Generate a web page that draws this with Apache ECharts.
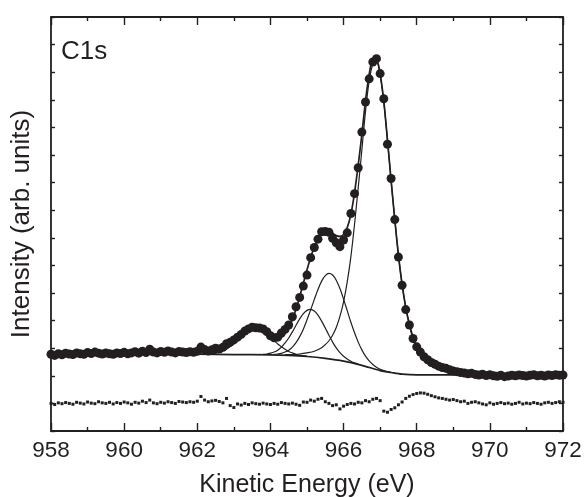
<!DOCTYPE html>
<html><head><meta charset="utf-8">
<script src="https://cdn.jsdelivr.net/npm/echarts@6/dist/echarts.min.js"></script>
<style>html,body{margin:0;padding:0;background:#fff}#c{width:586px;height:497px}</style>
</head><body><div id="c"></div>
<script>
// Measured spectrum (0.1 eV steps)
const energy = [958,958.1,958.2,958.3,958.4,958.5,958.6,958.7,958.8,958.9,
959,959.1,959.2,959.3,959.4,959.5,959.6,959.7,959.8,959.9,
960,960.1,960.2,960.3,960.4,960.5,960.6,960.7,960.8,960.9,
961,961.1,961.2,961.3,961.4,961.5,961.6,961.7,961.8,961.9,
962,962.1,962.2,962.3,962.4,962.5,962.6,962.7,962.8,962.9,
963,963.1,963.2,963.3,963.4,963.5,963.6,963.7,963.8,963.9,
964,964.1,964.2,964.3,964.4,964.5,964.6,964.7,964.8,964.9,
965,965.1,965.2,965.3,965.4,965.5,965.6,965.7,965.8,965.9,
966,966.1,966.2,966.3,966.4,966.5,966.6,966.7,966.8,966.9,
967,967.1,967.2,967.3,967.4,967.5,967.6,967.7,967.8,967.9,
968,968.1,968.2,968.3,968.4,968.5,968.6,968.7,968.8,968.9,
969,969.1,969.2,969.3,969.4,969.5,969.6,969.7,969.8,969.9,
970,970.1,970.2,970.3,970.4,970.5,970.6,970.7,970.8,970.9,
971,971.1,971.2,971.3,971.4,971.5,971.6,971.7,971.8,971.9,972];
const intensity = [2.78,2.74,2.80,2.76,2.82,2.79,2.77,2.83,2.80,2.78,
2.84,2.81,2.86,2.82,2.79,2.83,2.80,2.78,2.83,2.81,
2.85,2.80,2.83,2.87,2.82,2.89,2.84,2.96,2.86,2.83,
2.88,2.85,2.90,2.86,2.83,2.88,2.86,2.84,2.87,2.85,
2.89,3.04,2.95,2.90,2.94,3.00,2.97,3.03,3.16,3.22,
3.30,3.40,3.50,3.62,3.70,3.76,3.74,3.73,3.70,3.60,
3.45,3.38,3.40,3.55,3.68,3.84,4.14,4.50,4.84,5.25,
5.65,6.28,6.65,6.95,7.22,7.23,7.20,6.98,6.82,6.68,
6.92,7.18,7.88,8.60,9.54,10.83,11.92,12.76,13.37,13.49,
12.95,12.04,10.39,9.15,7.66,6.30,5.28,4.40,3.84,3.35,
3.05,2.86,2.69,2.58,2.48,2.42,2.35,2.30,2.27,2.22,
2.17,2.15,2.12,2.10,2.07,2.09,2.05,2.03,2.06,2.01,
2.04,2.00,1.98,2.02,1.97,1.99,2.02,2.00,2.03,2.01,
1.99,2.02,2.04,2.00,2.02,1.99,2.03,2.01,2.04,2.02,2.03];
// Fit residual (offset below spectrum)
const residual = [1.00,0.96,1.02,0.99,1.03,1.00,0.97,1.04,1.01,0.98,
1.05,1.01,0.99,1.06,1.02,1.00,1.04,0.98,1.03,1.00,
1.05,1.02,0.97,1.04,1.01,1.08,1.03,1.12,1.02,0.99,
1.04,1.01,1.06,1.03,1.00,1.07,1.05,1.03,1.06,1.04,
1.08,1.25,1.12,1.06,1.09,1.11,1.07,1.02,1.18,0.92,
0.85,0.98,0.94,1.00,0.96,1.02,0.99,0.97,1.01,0.98,
0.96,1.00,0.97,1.03,1.00,0.98,1.01,0.97,0.93,1.05,
1.04,1.12,1.08,1.15,1.18,1.06,1.00,0.92,0.95,0.80,
0.90,0.96,1.00,0.98,1.04,1.02,1.10,1.06,1.15,1.18,
1.10,0.72,0.68,0.78,0.84,0.95,1.05,1.18,1.26,1.32,
1.36,1.38,1.37,1.33,1.28,1.24,1.20,1.18,1.15,1.12,
1.14,1.10,1.06,1.08,1.00,1.04,1.06,1.02,0.98,0.95,
1.02,0.97,1.00,1.03,0.99,1.01,0.97,1.00,1.04,0.98,
1.01,0.99,1.03,1.00,0.97,1.02,1.04,1.00,1.03,1.06,1.04];

// Shirley background
const bgX = [958,962,963,964,964.5,965,965.5,966,966.5,967,967.3,967.6,968,972];
const bgY = [2.79,2.78,2.77,2.76,2.74,2.70,2.63,2.53,2.38,2.19,2.12,2.06,2.03,2.03];
// Component A (~963.6 eV)
const peakAX = [962.2,962.3,962.4,962.5,962.6,962.7,962.8,962.9,963,963.1,963.2,963.3,963.4,963.5,963.6,963.7,963.8,963.9,964,964.1,964.2,964.3,964.4,964.5,964.6,964.7,964.8,964.9,965];
const peakAY = [2.78,2.79,2.80,2.83,2.86,2.91,2.98,3.07,3.17,3.29,3.41,3.52,3.61,3.67,3.69,3.67,3.60,3.51,3.40,3.28,3.15,3.05,2.96,2.88,2.83,2.78,2.75,2.73,2.71];
// Component B (~965.1 eV)
const peakBX = [963.8,963.9,964,964.1,964.2,964.3,964.4,964.5,964.6,964.7,964.8,964.9,965,965.1,965.2,965.3,965.4,965.5,965.6,965.7,965.8,965.9,966,966.1,966.2,966.3,966.4];
const peakBY = [2.78,2.79,2.82,2.86,2.93,3.04,3.19,3.37,3.59,3.83,4.06,4.25,4.37,4.41,4.35,4.20,3.98,3.73,3.47,3.22,3.01,2.84,2.71,2.61,2.53,2.47,2.43];
// Component C (~965.6 eV)
const peakCX = [964.1,964.2,964.3,964.4,964.5,964.6,964.7,964.8,964.9,965,965.1,965.2,965.3,965.4,965.5,965.6,965.7,965.8,965.9,966,966.1,966.2,966.3,966.4,966.5,966.6,966.7,966.8,966.9,967,967.1,967.2,967.3];
const peakCY = [2.78,2.79,2.81,2.86,2.93,3.04,3.20,3.42,3.69,4.03,4.39,4.77,5.13,5.43,5.63,5.71,5.65,5.46,5.16,4.78,4.36,3.94,3.56,3.22,2.94,2.71,2.54,2.41,2.31,2.24,2.19,2.15,2.12];
// Component D (main, ~966.9 eV)
const peakDX = [964.4,964.6,964.8,965,965.2,965.4,965.5,965.6,965.7,965.8,965.9,966,966.1,966.2,966.3,966.4,966.5,966.6,966.7,966.8,966.9,967,967.1,967.2,967.3,967.4,967.5,967.6,967.7,967.8,967.9,968,968.1,968.2,968.3,968.4,968.5,968.6,968.7,968.8,968.9,969,969.2,969.5,970];
const peakDY = [2.77,2.77,2.79,2.83,2.89,3.02,3.13,3.27,3.47,3.75,4.15,4.68,5.40,6.32,7.49,8.81,10.18,11.59,12.68,13.29,13.36,12.89,11.92,10.54,9.07,7.67,6.37,5.31,4.48,3.83,3.33,2.98,2.74,2.57,2.45,2.36,2.29,2.24,2.20,2.16,2.13,2.11,2.08,2.05,2.03];
// Total fit envelope
const envX = [958,962,962.1,962.2,962.3,962.4,962.5,962.6,962.7,962.8,962.9,963,963.1,963.2,963.3,963.4,963.5,963.6,963.7,963.8,963.9,964,964.1,964.2,964.3,964.4,964.5,964.6,964.7,964.8,964.9,965,965.1,965.2,965.3,965.4,965.5,965.6,965.7,965.8,965.9,966,966.1,966.2,966.3,966.4,966.5,966.6,966.7,966.8,966.9,967,967.1,967.2,967.3,967.4,967.5,967.6,967.7,967.8,967.9,968,968.1,968.2,968.3,968.4,968.5,968.6,968.7,968.8,968.9,969,969.2,969.5,970,970.5,972];
const envY = [2.79,2.78,2.79,2.79,2.80,2.81,2.83,2.87,2.92,2.98,3.07,3.17,3.29,3.41,3.52,3.61,3.67,3.69,3.67,3.62,3.54,3.46,3.40,3.37,3.40,3.54,3.73,4.04,4.42,4.86,5.35,5.84,6.29,6.66,6.96,7.15,7.24,7.23,7.16,7.08,7.05,7.12,7.37,7.85,8.64,9.63,10.74,11.96,12.92,13.43,13.44,12.94,11.94,10.55,9.07,7.67,6.37,5.31,4.48,3.87,3.40,3.05,2.84,2.67,2.55,2.46,2.39,2.33,2.28,2.24,2.20,2.17,2.12,2.07,2.04,2.03,2.03];

const xTicks = [958,960,962,964,966,968,970,972];

const pairs = (xs, ys) => xs.map((x, i) => [x, ys[i]]);
const ink = '#231f20';
const font = '"Liberation Sans", Arial, Helvetica, sans-serif';

const chart = echarts.init(document.getElementById('c'));
const lineSeries = (xs, ys, w) => ({
  type: 'line', data: pairs(xs, ys), smooth: 0.3, symbol: 'none',
  lineStyle: {color: ink, width: w}, xAxisIndex: 0, yAxisIndex: 0, z: 2
});
const xBase = {
  type: 'value', min: xTicks[0], max: xTicks[xTicks.length - 1], interval: 2,
  axisLine: {show: true, onZero: false, lineStyle: {color: ink, width: 1.8}},
  axisTick: {show: true, inside: true, length: 8, lineStyle: {color: ink, width: 1.4}},
  minorTick: {show: true, splitNumber: 2, length: 4, lineStyle: {color: ink, width: 1.4}},
  splitLine: {show: false}, minorSplitLine: {show: false}
};
const yBase = {
  type: 'value', min: 0, max: 15, interval: 1,
  axisLine: {show: true, onZero: false, lineStyle: {color: ink, width: 1.8}},
  axisTick: {show: true, inside: true, length: 4, lineStyle: {color: ink, width: 1.4}},
  axisLabel: {show: false}, splitLine: {show: false}
};
chart.setOption({
  animation: false,
  backgroundColor: '#fff',
  grid: {left: 51, right: 23, top: 17, bottom: 66, containLabel: false, outerBoundsMode: 'none'},
  xAxis: [
    Object.assign({}, xBase, {
      position: 'bottom',
      name: 'Kinetic Energy (eV)', nameLocation: 'middle', nameGap: 42,
      nameTextStyle: {fontSize: 25, color: ink, fontFamily: font},
      axisLabel: {show: true, fontSize: 22.5, color: ink, fontFamily: font, margin: 8,
        formatter: v => String(v)}
    }),
    Object.assign({}, xBase, {position: 'top', axisLabel: {show: false}})
  ],
  yAxis: [
    Object.assign({}, yBase, {
      position: 'left',
      name: 'Intensity (arb. units)', nameLocation: 'middle', nameGap: 16,
      nameTextStyle: {fontSize: 26, color: ink, fontFamily: font}
    }),
    Object.assign({}, yBase, {position: 'right'})
  ],
  graphic: [{
    type: 'text', left: 61, top: 39,
    style: {text: 'C1s', fontSize: 26, fill: ink, fontFamily: font}
  }],
  series: [
    lineSeries(bgX, bgY, 1.7),
    lineSeries(peakAX, peakAY, 1.2),
    lineSeries(peakBX, peakBY, 1.2),
    lineSeries(peakCX, peakCY, 1.2),
    lineSeries(peakDX, peakDY, 1.2),
    lineSeries(envX, envY, 1.7),
    {type: 'scatter', data: pairs(energy, intensity), symbol: 'circle', symbolSize: 9,
      itemStyle: {color: ink, opacity: 1}, z: 3},
    {type: 'scatter', data: pairs(energy, residual), symbol: 'rect', symbolSize: 3,
      itemStyle: {color: ink, opacity: 1}, z: 3}
  ]
});
</script></body></html>
